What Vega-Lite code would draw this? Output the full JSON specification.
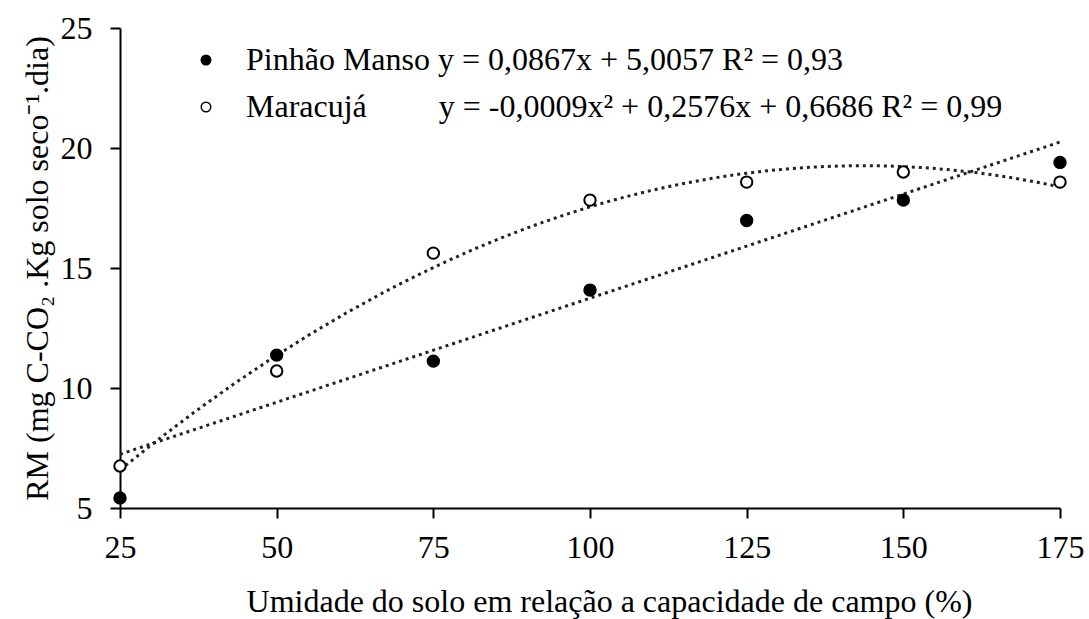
{
  "$schema": "https://vega.github.io/schema/vega-lite/v6.json",
  "width": 940,
  "height": 480,
  "autosize": {"type": "none"},
  "padding": {"left": 120, "top": 28, "right": 29, "bottom": 111},
  "background": "white",
  "config": {
    "view": {"stroke": null},
    "font": "Liberation Serif",
    "axis": {
      "grid": false,
      "domainColor": "#000",
      "domainWidth": 2,
      "tickColor": "#000",
      "tickWidth": 2,
      "tickSize": 10,
      "labelFont": "Liberation Serif",
      "labelFontSize": 32,
      "labelColor": "#000",
      "titleFont": "Liberation Serif",
      "titleFontSize": 32,
      "titleFontWeight": "normal",
      "titleColor": "#000"
    }
  },
  "data": {
    "values": [
      {"serie": "Pinhão Manso", "umidade": 25, "rm": 5.42},
      {"serie": "Pinhão Manso", "umidade": 50, "rm": 11.37},
      {"serie": "Pinhão Manso", "umidade": 75, "rm": 11.12},
      {"serie": "Pinhão Manso", "umidade": 100, "rm": 14.08},
      {"serie": "Pinhão Manso", "umidade": 125, "rm": 16.98},
      {"serie": "Pinhão Manso", "umidade": 150, "rm": 17.83},
      {"serie": "Pinhão Manso", "umidade": 175, "rm": 19.4},
      {"serie": "Maracujá", "umidade": 25, "rm": 6.75},
      {"serie": "Maracujá", "umidade": 50, "rm": 10.71},
      {"serie": "Maracujá", "umidade": 75, "rm": 15.62},
      {"serie": "Maracujá", "umidade": 100, "rm": 17.83},
      {"serie": "Maracujá", "umidade": 125, "rm": 18.58},
      {"serie": "Maracujá", "umidade": 150, "rm": 19.0},
      {"serie": "Maracujá", "umidade": 175, "rm": 18.58}
    ]
  },
  "encoding": {
    "x": {
      "field": "umidade",
      "type": "quantitative",
      "scale": {"domain": [25, 175], "nice": false, "zero": false},
      "axis": {
        "values": [25, 50, 75, 100, 125, 150, 175],
        "labelFlush": false,
        "labelPadding": 14,
        "title": "Umidade do solo em relação a capacidade de campo (%)",
        "titlePadding": 23,
        "titleX": 489
      }
    },
    "y": {
      "field": "rm",
      "type": "quantitative",
      "scale": {"domain": [5, 25], "nice": false, "zero": false},
      "axis": {
        "values": [5, 10, 15, 20, 25],
        "labelFlush": false,
        "labelPadding": 18,
        "title": "RM (mg C-CO₂ .Kg solo seco⁻¹.dia)",
        "titlePadding": 6
      }
    }
  },
  "layer": [
    {
      "transform": [
        {"filter": "datum.serie === 'Pinhão Manso'"},
        {"regression": "rm", "on": "umidade", "method": "linear"}
      ],
      "mark": {"type": "line", "strokeDash": [3, 4], "strokeWidth": 3, "color": "#222"}
    },
    {
      "transform": [
        {"filter": "datum.serie === 'Maracujá'"},
        {"regression": "rm", "on": "umidade", "method": "poly", "order": 2}
      ],
      "mark": {"type": "line", "strokeDash": [3, 4], "strokeWidth": 3, "color": "#222"}
    },
    {
      "mark": {"type": "circle", "size": 130, "stroke": "#000", "strokeWidth": 2, "opacity": 1},
      "encoding": {
        "fill": {
          "field": "serie",
          "type": "nominal",
          "scale": {"domain": ["Pinhão Manso", "Maracujá"], "range": ["#000", "#fff"]},
          "legend": {
            "orient": "none",
            "legendX": 70,
            "legendY": 16,
            "title": null,
            "padding": 0,
            "symbolType": "circle",
            "symbolSize": 90,
            "symbolStrokeColor": "#000",
            "symbolStrokeWidth": 1.5,
            "labelFont": "Liberation Serif",
            "labelFontSize": 32,
            "labelColor": "#000",
            "labelLimit": 1000,
            "labelOffset": 24,
            "rowPadding": 15,
            "labelExpr": "datum.label === 'Pinhão Manso' ? 'Pinhão Manso y = 0,0867x + 5,0057 R² = 0,93' : 'Maracujá\u00a0\u00a0\u00a0\u00a0\u00a0\u00a0\u00a0\u00a0 y = -0,0009x² + 0,2576x + 0,6686 R² = 0,99'"
          }
        }
      }
    }
  ]
}
